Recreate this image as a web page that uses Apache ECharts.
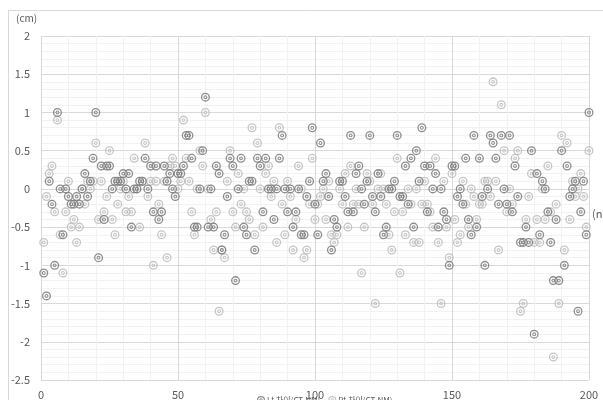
<!DOCTYPE html>
<html><head><meta charset="utf-8">
<script src="https://cdn.jsdelivr.net/npm/echarts@6/dist/echarts.min.js"></script>
<style>html,body{margin:0;padding:0;background:#fff}#c{width:603px;height:400px}</style>
</head><body><div id="c"></div>
<script>
// Lt 차이 (CT-NM), subject n = 1..200
const ltDiff = [
-1.1,-1.4,0.1,-0.2,-1.0,1.0,0,-0.6,0,-0.1,-0.2,-0.2,-0.1,-0.2,0,0.2,-0.1,0.1,0.4,1.0,
-0.9,0.3,-0.4,0.3,0.3,0,0.1,0.1,0.1,0.2,0,0.2,-0.5,0,0,0.1,0.1,0.4,0,0.3,
-0.3,0.3,-0.4,-0.3,0.3,0.1,0.2,0,-0.1,0.2,0.2,0.3,0.7,0.7,0.4,-0.5,-0.5,0,0.5,1.2,
-0.5,0,-0.5,0.3,0.2,-0.8,-0.6,-0.1,0.4,0.3,-1.2,0,0.4,-0.5,-0.6,0.1,0.1,-0.8,0.4,0.3,
-0.3,0.4,0,0,-0.4,0,0.4,0.7,0,-0.3,0,-0.5,-0.3,0,-0.6,-0.6,-0.1,0.1,0.8,-0.2,
-0.6,0.6,0.1,0.2,-0.1,-0.8,-0.4,-0.5,0.1,0.1,-0.1,-0.3,0.7,-0.3,0.2,0.3,0,-0.2,0.1,0.7,
-0.1,-0.3,0.2,-0.1,-0.6,-0.5,0,0,0.1,0.7,-0.1,-0.1,0.3,-0.2,0.4,-0.5,0.5,0.1,0.8,0.3,
-0.3,0.3,0,0.2,-0.5,0,-0.3,-0.4,-1.0,0.3,0.3,-0.1,0,-0.2,0.4,-0.4,-0.6,0.7,-0.5,0.4,
-0.1,-1.0,0,0.7,0.6,0.4,-0.2,0.7,0,-0.2,0.7,-0.3,0.3,-0.1,-0.7,-0.7,-0.5,-0.7,0.5,-1.9,
0.2,-0.6,0.1,0,-0.3,-0.7,-1.2,-0.4,-1.2,0.5,-1.0,0.3,-0.1,0,0.1,-1.6,-0.3,0.1,-0.6,1.0
];
// Rt 차이 (CT-NM)
const rtDiff = [
-0.7,-0.1,0.2,0.3,-0.3,0.9,-0.6,-1.1,-0.3,0.1,-0.5,-0.4,-0.7,-0.5,0,-0.2,0.1,0,0.1,0.6,
-0.4,0.1,-0.3,-0.1,0.5,-0.4,-0.6,-0.2,0,0.1,-0.3,-0.1,-0.3,0.4,0,-0.5,0.1,0.6,-0.1,0.1,
-1.0,0.1,-0.2,-0.6,0.1,-0.9,0.3,0.4,0.3,0,0.1,0.9,0.4,0.1,-0.3,-0.6,0,0.5,0.3,1.0,
0,-0.4,-0.8,-0.3,-1.6,-0.8,-0.9,0.1,0.5,-0.3,-0.5,0.2,-0.2,0,-0.3,-0.4,0.8,-0.6,0.6,0,
-0.5,0.2,0.3,-0.1,0.1,-0.7,0.8,-0.2,-0.6,0.1,-0.1,-0.8,-0.4,0.3,0,-0.9,-0.8,-0.2,0.4,-0.4,
-0.2,-0.1,0,-0.4,0.1,-0.6,-0.7,-0.6,0,-0.2,0.2,-0.5,0.3,-0.2,0,-0.2,-1.1,-0.5,0.2,0.1,
-0.2,-1.5,0,0.2,0,-0.2,-0.6,-0.8,-0.3,0.4,-1.1,-0.3,-0.6,0,-0.2,-0.7,0,-0.7,-0.2,0.1,
-0.2,-0.3,-0.5,0.4,-0.7,-1.5,0.1,-0.5,-0.9,0.2,-0.4,-0.7,-0.6,0.1,-0.2,-0.5,0,-0.1,-0.4,-0.2,
-0.2,0.1,0.1,-0.1,1.4,0.1,-0.8,1.1,0.5,-0.3,0,-0.2,0.4,0.5,-1.6,-1.5,-0.4,-0.1,0.2,-0.7,
-0.4,-0.7,0,-0.4,0.3,-0.3,-2.2,-0.2,-1.5,0.7,-0.8,0.6,-0.4,0.1,-0.1,0,0.2,-0.1,-0.5,0.5
];
const seriesNames = ['Lt 차이(CT-NM)', 'Rt 차이(CT-NM)'];
const xMin = 0, xMax = 200, xInterval = 50;
const yMin = -2.5, yMax = 2, yInterval = 0.5;
const yUnit = '(cm)', xUnit = '(n)';

const toPoints = arr => arr.map((v, i) => [i + 1, v]);
const ring = 'path://M0,10A10,10,0,1,0,20,10A10,10,0,1,0,0,10ZM2.9,10A7.1,7.1,0,1,1,17.1,10A7.1,7.1,0,1,1,2.9,10ZM5.7,10A4.3,4.3,0,1,0,14.3,10A4.3,4.3,0,1,0,5.7,10ZM8,10A2,2,0,1,1,12,10A2,2,0,1,1,8,10Z';
const FONT = '"Noto Sans CJK KR", "Noto Sans", sans-serif';

const chart = echarts.init(document.getElementById('c'), null, {renderer: 'canvas'});
chart.setOption({
  animation: false,
  backgroundColor: '#fff',
  textStyle: {fontFamily: FONT},
  grid: {left: 41, top: 36, right: 14, bottom: 18, containLabel: false},
  graphic: [
    {type: 'rect', silent: true, z: -10, shape: {x: 8.5, y: 10.5, width: 620, height: 420}, style: {fill: 'none', stroke: '#d9d9d9', lineWidth: 1}},
    {type: 'text', left: 16, top: 13, style: {text: yUnit, font: '10px ' + FONT, fill: '#595959'}},
    {type: 'text', left: 592, top: 208, style: {text: xUnit, font: '11px ' + FONT, fill: '#595959'}}
  ],
  legend: {
    data: seriesNames,
    left: 252, top: 391,
    itemWidth: 8, itemHeight: 8, itemGap: 8,
    textStyle: {fontSize: 8, color: '#595959', fontFamily: FONT, padding: [0,0,0,-3]}
  },
  xAxis: {
    type: 'value', min: xMin, max: xMax, interval: xInterval,
    axisLine: {show: true, onZero: true, lineStyle: {color: '#d9d9d9', width: 1}},
    axisTick: {show: false},
    axisLabel: {color: '#595959', fontSize: 11, margin: 9, fontFamily: FONT},
    splitLine: {show: true, lineStyle: {color: '#d9d9d9', width: 1}},
    minorTick: {show: false, splitNumber: 5},
    minorSplitLine: {show: true, lineStyle: {color: '#f2f2f2', width: 1}}
  },
  yAxis: {
    type: 'value', min: yMin, max: yMax, interval: yInterval,
    axisLine: {show: false},
    axisTick: {show: false},
    axisLabel: {color: '#595959', fontSize: 11, margin: 11, fontFamily: FONT},
    splitLine: {show: true, lineStyle: {color: '#d9d9d9', width: 1}},
    minorTick: {show: false, splitNumber: 5},
    minorSplitLine: {show: true, lineStyle: {color: '#f2f2f2', width: 1}}
  },
  series: [
    {name: seriesNames[0], type: 'scatter', data: toPoints(ltDiff), symbol: ring, symbolSize: 9,
     itemStyle: {color: '#7f7f7f', opacity: 0.9}, z: 3},
    {name: seriesNames[1], type: 'scatter', data: toPoints(rtDiff), symbol: ring, symbolSize: 9,
     itemStyle: {color: '#bfbfbf', opacity: 0.9}, z: 2}
  ]
});
</script></body></html>
